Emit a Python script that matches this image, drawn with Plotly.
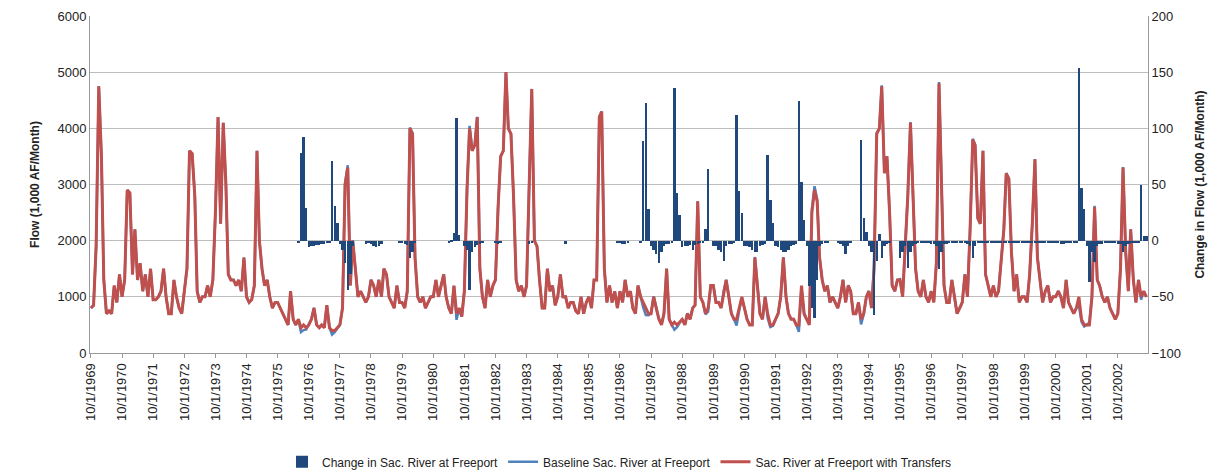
import plotly.graph_objects as go
import pandas as pd

water_years = list(range(1970, 2004))
# Sac. River at Freeport with Transfers, 1,000 AF/month, Oct..Sep per water year
with_transfers = {
1970:[800,850,1900,4750,3500,1300,700,750,700,1200,900,1400],
1971:[1000,1300,2900,2850,1400,2200,1300,1600,1100,1400,1000,1500],
1972:[950,950,1000,1100,1500,1000,700,700,1300,1000,800,700],
1973:[1100,1500,3600,3550,2800,1100,900,1000,1000,1200,1000,1300],
1974:[2500,4200,2300,4100,3000,1400,1300,1300,1200,1300,1100,1700],
1975:[1000,900,950,1200,3600,2000,1500,1200,1300,1000,800,900],
1976:[900,800,700,600,500,1100,600,500,600,450,500,450],
1977:[500,600,800,500,450,500,450,850,450,400,400,450],
1978:[500,800,3000,3300,1200,2000,1500,1000,1100,1000,900,1000],
1979:[1300,1200,1000,1300,1000,1500,1400,1000,900,800,1200,900],
1980:[900,800,1100,4000,3900,1700,1000,900,1000,800,900,1000],
1981:[1000,1300,1000,1200,1400,1000,800,700,1200,700,800,650],
1982:[1100,2900,4000,3600,3700,4200,1500,1000,800,1300,1000,1200],
1983:[1300,2600,3500,3600,5000,4000,3900,2800,1300,1100,1200,1000],
1984:[1200,3000,4700,2000,1900,1300,800,800,1500,1100,1200,850],
1985:[1000,1400,1000,1000,800,900,900,750,700,1000,700,900],
1986:[1000,800,1300,1300,4200,4300,1500,900,1200,900,1100,800],
1987:[1100,900,1300,1000,1100,800,700,1200,1000,900,800,700],
1988:[700,1000,800,600,500,700,1500,600,500,550,500,550],
1989:[600,500,700,600,800,850,2700,1000,900,700,800,1200],
1990:[1200,900,900,800,1100,1300,1000,700,600,600,800,1000],
1991:[800,600,500,500,1700,1200,700,600,1000,700,500,500],
1992:[600,700,1000,1700,1000,700,600,600,500,500,1200,700],
1993:[600,500,2500,2900,2700,1700,1300,1100,1200,900,1000,900],
1994:[800,1000,1300,900,1200,1100,700,700,900,600,700,1000],
1995:[1100,800,1500,3900,4000,4750,3200,3500,2500,1200,1100,1300],
1996:[1300,1000,1800,2800,4100,3000,1500,1100,1000,1300,1000,900],
1997:[1100,900,1600,4800,3000,1200,900,900,1300,1000,700,800],
1998:[900,1400,1000,2200,3800,3700,2400,2300,3600,1400,1200,1000],
1999:[1200,1000,1100,1700,2200,3200,3100,1800,1100,1400,900,1000],
2000:[1000,900,1400,2300,3450,1700,1300,900,1100,1200,900,1000],
2001:[1000,1100,1000,800,1300,900,800,700,800,1000,600,500],
2002:[500,500,1000,2600,1300,1200,1000,900,1000,800,700,600],
2003:[700,1500,3300,1800,1100,2200,1300,900,1300,1000,1100,1000],
}
# Change in Sac. River at Freeport, 1,000 AF/month
change = {
1970:[0]*12, 1971:[0]*12, 1972:[0]*12, 1973:[0]*12, 1974:[0]*12, 1975:[0]*12,
1976:[0,0,0,0,0,0,0,0,-2,78,92,29],
1977:[-6,-5,-5,-4,-4,-3,-3,-2,-2,71,31,16],
1978:[-3,-8,-20,-44,-30,-5,0,0,0,0,-3,-2],
1979:[-3,-5,-6,-5,-3,0,0,0,0,0,0,-2],
1980:[-2,-3,-4,-15,-10,-2,0,0,0,0,0,0],
1981:[0,0,0,0,0,0,-2,-1,7,109,5,0],
1982:[-5,-8,-44,-10,-6,-4,-3,-2,0,0,0,0],
1983:[-2,-3,-2,0,0,0,0,0,0,0,0,0],
1984:[0,-3,-2,0,0,0,0,0,0,0,0,0],
1985:[0,0,0,-3,0,0,0,0,0,0,0,0],
1986:[0,0,0,0,0,0,0,0,0,0,0,-2],
1987:[-2,-3,-3,-2,0,0,0,0,-2,89,123,28],
1988:[-5,-8,-12,-20,-10,-5,-3,-3,-2,136,42,23],
1989:[-6,-5,-5,-4,-8,-4,-3,-2,-2,10,64,0],
1990:[-5,-5,-8,-10,-18,-5,-3,-3,-2,112,44,25],
1991:[-5,-5,-6,-8,-10,-10,-5,-4,-3,76,36,16],
1992:[-5,-6,-8,-10,-10,-8,-5,-4,-3,124,52,18],
1993:[-5,-40,-60,-69,-35,-5,-3,-2,-2,0,0,0],
1994:[-2,-3,-5,-12,-5,-2,0,0,0,90,20,8],
1995:[-5,-10,-66,-18,6,-15,-5,-3,-2,0,0,0],
1996:[-15,-10,-5,-24,-10,-5,-3,-2,-2,-2,-2,-2],
1997:[-3,-3,-5,-25,-10,-3,-3,-2,-2,-2,-2,-2],
1998:[-2,-2,-3,-5,-15,-5,-2,-2,-2,-2,-2,-2],
1999:[-2,-2,-2,-2,-2,-2,-2,-2,-2,-2,-2,-2],
2000:[-2,-2,-2,-2,-2,-2,-2,-2,-2,-2,-2,-2],
2001:[-2,-2,-3,-3,-2,-2,-2,-2,-2,154,47,28],
2002:[-5,-37,-10,-19,-5,-3,-3,-2,-2,-2,-2,-2],
2003:[-3,-3,-10,-5,-3,-2,-2,-2,-2,50,4,4],
}
tick_labels = [f"10/1/{y}" for y in range(1969, 2003)]

dates = pd.date_range("1969-10-01", periods=len(water_years)*12, freq="MS")
red = [v for y in water_years for v in with_transfers[y]]
chg = [v for y in water_years for v in change[y]]
base = [r - c for r, c in zip(red, chg)]

fig = go.Figure()
fig.add_trace(go.Bar(x=dates, y=chg, name="Change in Sac. River at Freeport",
                     marker=dict(color="#1F497D", line=dict(width=0)), yaxis="y2"))
fig.add_trace(go.Scatter(x=dates, y=base, name="Baseline Sac. River at Freeport",
                         mode="lines", line=dict(color="#4F81BD", width=2.5)))
fig.add_trace(go.Scatter(x=dates, y=red, name="Sac. River at Freeport with Transfers",
                         mode="lines", line=dict(color="#C0504D", width=3)))

fig.update_layout(
    width=1221, height=475, plot_bgcolor="white", paper_bgcolor="white",
    margin=dict(l=82, r=81, t=8, b=130, autoexpand=False), bargap=0,
    font=dict(family="Liberation Sans, Arial", size=12, color="#222"),
    xaxis=dict(tickvals=[pd.Timestamp(f"{y}-10-01") for y in range(1969, 2003)],
               ticktext=tick_labels, tickangle=-90, showgrid=False, automargin=False,
               range=[pd.Timestamp("1969-09-20"), pd.Timestamp("2003-09-20")],
               tickfont=dict(size=13),
               showline=True, linecolor="#999", ticks="outside", ticklen=4, tickcolor="#999"),
    yaxis=dict(range=[0, 6000], dtick=1000, gridcolor="#BDBDBD", showline=True, linecolor="#999",
               automargin=False, tickfont=dict(size=13),
               title=dict(text="<b>Flow (1,000 AF/Month)</b>", font=dict(size=12))),
    yaxis2=dict(range=[-100, 200], dtick=50, overlaying="y", side="right", showgrid=False,
                showline=True, linecolor="#999", zeroline=False, automargin=False,
                tickfont=dict(size=13),
                title=dict(text="<b>Change in Flow (1,000 AF/Month)</b>", font=dict(size=12))),
    legend=dict(orientation="h", x=0.5, xanchor="center", y=-0.28, yanchor="top",
                font=dict(size=12), traceorder="normal"),
)
fig.write_html("out.html")
